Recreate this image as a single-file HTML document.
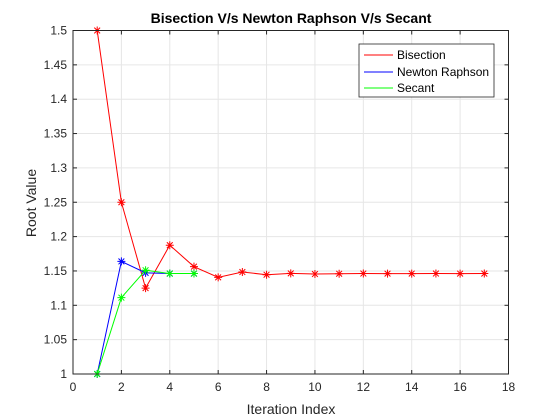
<!DOCTYPE html>
<html><head><meta charset="utf-8"><style>
body{margin:0;background:#fff;}
svg{display:block;font-family:"Liberation Sans",Arial,sans-serif;}
</style></head><body>
<svg id="chart" width="560" height="420" viewBox="0 0 560 420">
<rect width="560" height="420" fill="#fff"/>
<g id="grid"></g>
<g id="series"></g>
<g id="axes"></g>
<text x="291" y="23" text-anchor="middle" font-size="14" font-weight="bold" fill="#000">Bisection V/s Newton Raphson V/s Secant</text>
<text x="291" y="414" text-anchor="middle" font-size="14" fill="#262626">Iteration Index</text>
<text transform="translate(36,203) rotate(-90)" text-anchor="middle" font-size="14" fill="#262626">Root Value</text>
<g>
<rect x="359" y="44" width="135" height="53" fill="#fff" stroke="#262626" stroke-width="0.8"/>
<line x1="364" y1="55" x2="393" y2="55" stroke="#f00"/>
<text x="397" y="59" font-size="12" fill="#000">Bisection</text>
<line x1="364" y1="72" x2="393" y2="72" stroke="#00f"/>
<text x="397" y="76" font-size="12" fill="#000">Newton Raphson</text>
<line x1="364" y1="88" x2="393" y2="88" stroke="#0f0"/>
<text x="397" y="92" font-size="12" fill="#000">Secant</text>
</g>
</svg>
<script>
const bisection=[1.5,1.25,1.125,1.1875,1.15625,1.140625,1.1484375,1.14453,1.14648,1.14551,1.146,1.14624,1.14612,1.14618,1.14621,1.14619,1.1462];
const newton=[1,1.1639,1.1472,1.1462,1.1462];
const secant=[1,1.1111,1.1511,1.1462,1.1462];
const xTicks=[0,2,4,6,8,10,12,14,16,18];
const yTicks=[1,1.05,1.1,1.15,1.2,1.25,1.3,1.35,1.4,1.45,1.5];
const L=73,R=508.5,T=30.5,B=374;
const sx=v=>L+(v-0)/18*(R-L);
const sy=v=>B-(v-1)/0.5*(B-T);
const NS='http://www.w3.org/2000/svg';
function mk(tag,attrs,parent){const e=document.createElementNS(NS,tag);for(const k in attrs)e.setAttribute(k,attrs[k]);parent.appendChild(e);return e;}
const grid=document.getElementById('grid'),axes=document.getElementById('axes'),ser=document.getElementById('series');
xTicks.forEach(t=>{const x=sx(t);
 const g=mk('line',{x1:x,x2:x,y1:T,y2:B,stroke:'#e6e6e6'},grid);
 
 
 mk('line',{x1:x,x2:x,y1:B,y2:B-4,stroke:'#262626'},axes);
 mk('line',{x1:x,x2:x,y1:T,y2:T+4,stroke:'#262626'},axes);
 const lb=mk('text',{x:x,y:B+17,'text-anchor':'middle','font-size':12,fill:'#262626'},axes);lb.textContent=t;
 
 
});
yTicks.forEach(t=>{const y=sy(t);
 const g=mk('line',{x1:L,x2:R,y1:y,y2:y,stroke:'#e6e6e6'},grid);
 
 
 mk('line',{x1:L,x2:L+4,y1:y,y2:y,stroke:'#262626'},axes);
 mk('line',{x1:R,x2:R-4,y1:y,y2:y,stroke:'#262626'},axes);
 const lb=mk('text',{x:L-6,y:y+4,'text-anchor':'end','font-size':12,fill:'#262626'},axes);lb.textContent=t;
 
 
});
mk('rect',{x:L,y:T,width:R-L,height:B-T,fill:'none',stroke:'#262626','stroke-width':1},axes);
function series(data,color,name){
 const g=mk('g',{},ser);
 
 
 mk('polyline',{points:data.map((v,i)=>sx(i+1)+','+sy(v)).join(' '),fill:'none',stroke:color,'stroke-width':1},g);
 data.forEach((v,i)=>{const x=sx(i+1),y=sy(v),r=4,d=2.9;
  const m=mk('path',{d:`M${x-r},${y}H${x+r}M${x},${y-r}V${y+r}M${x-d},${y-d}L${x+d},${y+d}M${x-d},${y+d}L${x+d},${y-d}`,stroke:color,'stroke-width':1,fill:'none'},g);
  
  
 });
}
series(bisection,'#f00','bisection-series');
series(newton,'#00f','newton-series');
series(secant,'#0f0','secant-series');
</script>
</body></html>
